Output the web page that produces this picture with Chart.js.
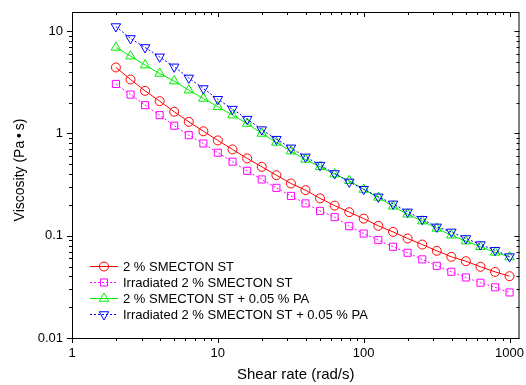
<!DOCTYPE html>
<html>
<head>
<meta charset="utf-8">
<title>Viscosity vs shear rate</title>
<script src="https://cdn.jsdelivr.net/npm/chart.js@4.4.1/dist/chart.umd.min.js"></script>
<style>
    html, body { margin: 0; padding: 0; background: #fff; }
    #wrap { width: 526px; height: 385px; }
</style>
</head>
<body>
<div id="wrap"><canvas id="viscChart" width="526" height="385"></canvas></div>
<script>
// --- Data ---
const shearRates = [2, 2.52, 3.17, 3.99, 5.02, 6.32, 7.96, 10.0, 12.6, 15.9, 20.0, 25.2, 31.7, 39.9,
    50.2, 63.2, 79.6, 100, 126, 159, 200, 252, 317, 399, 502, 632, 796, 1000];

const smecton = [4.42, 3.37, 2.61, 2.07, 1.63, 1.30, 1.05, 0.855, 0.698, 0.570, 0.472, 0.391, 0.324, 0.279,
    0.232, 0.197, 0.170, 0.147, 0.125, 0.109, 0.094, 0.082, 0.0712, 0.0622, 0.0563, 0.0497, 0.0443, 0.0402];
const smectonIrr = [3.05, 2.40, 1.89, 1.51, 1.19, 0.962, 0.798, 0.648, 0.530, 0.431, 0.355, 0.294, 0.245, 0.207,
    0.175, 0.152, 0.124, 0.105, 0.0906, 0.078, 0.0681, 0.0587, 0.0508, 0.0444, 0.0391, 0.0347, 0.0313, 0.0279];
const smectonPA = [6.93, 5.70, 4.66, 3.86, 3.25, 2.65, 2.20, 1.82, 1.51, 1.25, 1.00, 0.817, 0.671, 0.557,
    0.472, 0.400, 0.345, 0.283, 0.237, 0.194, 0.162, 0.139, 0.118, 0.101, 0.0886, 0.078, 0.0687, 0.062];
const smectonPAIrr = [11.1, 8.49, 6.93, 5.61, 4.48, 3.49, 2.75, 2.16, 1.73, 1.38, 1.09, 0.879, 0.723, 0.590,
    0.490, 0.406, 0.336, 0.285, 0.240, 0.205, 0.171, 0.145, 0.122, 0.109, 0.094, 0.082, 0.0722, 0.0625];

const seriesNames = [
    '2 % SMECTON ST',
    'Irradiated 2 % SMECTON ST',
    '2 % SMECTON ST + 0.05 % PA',
    'Irradiated 2 % SMECTON ST + 0.05 % PA'
];

const xTickLabels = [1, 10, 100, 1000];
const yTickLabels = [0.01, 0.1, 1, 10];

const FONT = '"Liberation Sans", Arial, sans-serif';

function toPoints(values) {
    return values.map((v, i) => ({ x: shearRates[i], y: v }));
}

function makeDataset(label, values, color, style, dash, radius, rotation, order) {
    return {
        label: label,
        data: toPoints(values),
        borderColor: color,
        backgroundColor: 'rgba(0,0,0,0)',
        borderWidth: 1,
        borderDash: dash,
        pointStyle: style,
        pointRotation: rotation,
        pointRadius: radius,
        pointHoverRadius: radius,
        pointBorderColor: color,
        pointBackgroundColor: 'rgba(0,0,0,0)',
        pointBorderWidth: 1,
        tension: 0,
        fill: false,
        order: order
    };
}

// --- Frame, ticks, labels and titles drawn from the chart's own scales ---
const frameAxes = {
    id: 'frameAxes',
    afterDraw(chart) {
        const { ctx, chartArea: a, scales: { x, y } } = chart;
        ctx.save();
        ctx.strokeStyle = '#000';
        ctx.lineWidth = 1;
        ctx.setLineDash([]);
        ctx.strokeRect(a.left + 0.5, a.top + 0.5, a.right - a.left - 1, a.bottom - a.top);

        // x ticks
        xTickLabels.forEach(d => {
            for (let m = 1; m <= 9; m++) {
                const v = d * m;
                if (v > x.max) break;
                const px = Math.round(x.getPixelForValue(v)) + 0.5;
                const len = m === 1 ? 5 : 3;
                ctx.beginPath();
                ctx.moveTo(px, a.bottom);
                ctx.lineTo(px, a.bottom + len);
                ctx.moveTo(px, a.top);
                ctx.lineTo(px, a.top + len);
                ctx.stroke();
            }
        });
        // y ticks
        yTickLabels.forEach(d => {
            for (let m = 1; m <= 9; m++) {
                const v = d * m;
                if (v > y.max) break;
                const py = Math.round(y.getPixelForValue(v)) + 0.5;
                const len = m === 1 ? 5 : 3;
                ctx.beginPath();
                ctx.moveTo(a.left, py);
                ctx.lineTo(a.left - len, py);
                ctx.moveTo(a.right, py);
                ctx.lineTo(a.right - len, py);
                ctx.stroke();
            }
        });

        ctx.fillStyle = '#000';
        ctx.font = '13px ' + FONT;
        ctx.textAlign = 'center';
        ctx.textBaseline = 'middle';
        xTickLabels.forEach(v => {
            ctx.fillText(String(v), x.getPixelForValue(v), a.bottom + 15);
        });
        ctx.textAlign = 'right';
        yTickLabels.forEach(v => {
            ctx.fillText(String(v), a.left - 9, y.getPixelForValue(v));
        });

        // axis titles
        ctx.font = '15px ' + FONT;
        ctx.textAlign = 'center';
        ctx.fillText('Shear rate (rad/s)', (a.left + a.right) / 2, 375);
        ctx.save();
        ctx.translate(20, 170);
        ctx.rotate(-Math.PI / 2);
        ctx.font = '14px ' + FONT;
        ctx.fillText('Viscosity (Pa\u2009\u2022\u2009s)', 0, 0);
        ctx.restore();

        // legend inside the plot, lower left
        ctx.font = '13px ' + FONT;
        ctx.textAlign = 'left';
        const rows = [266, 282, 298, 314];
        chart.data.datasets.forEach((ds, i) => {
            const ry = rows[i] + 0.5;
            ctx.strokeStyle = ds.borderColor;
            ctx.setLineDash(ds.borderDash);
            ctx.beginPath();
            ctx.moveTo(90, ry);
            ctx.lineTo(118, ry);
            ctx.stroke();
            ctx.setLineDash([]);
            ctx.fillStyle = 'rgba(0,0,0,0)';
            Chart.helpers.drawPoint(ctx, {
                pointStyle: ds.pointStyle,
                rotation: ds.pointRotation,
                radius: ds.pointRadius,
                borderWidth: 1
            }, 104, ry);
            ctx.fillStyle = '#000';
            ctx.fillText(ds.label, 123, rows[i] + 1);
        });
        ctx.restore();
    }
};

const viscChart = new Chart(document.getElementById('viscChart'), {
    type: 'line',
    data: {
        datasets: [
            makeDataset(seriesNames[0], smecton, '#ff0000', 'circle', [], 4.5, 0, 4),
            makeDataset(seriesNames[1], smectonIrr, '#ff00ff', 'rect', [2, 2], 5, 0, 3),
            makeDataset(seriesNames[2], smectonPA, '#00ee00', 'triangle', [], 5.5, 0, 2),
            makeDataset(seriesNames[3], smectonPAIrr, '#0000ff', 'triangle', [2, 2], 5.5, 180, 1)
        ]
    },
    options: {
        responsive: false,
        animation: false,
        layout: { padding: { left: 72, top: 12, right: 3, bottom: 47 } },
        scales: {
            x: { type: 'logarithmic', min: 1, max: 1170, display: false },
            y: { type: 'logarithmic', min: 0.01, max: 15.4, display: false }
        },
        plugins: {
            legend: { display: false },
            tooltip: { enabled: false }
        }
    },
    plugins: [frameAxes]
});
</script>
</body>
</html>
